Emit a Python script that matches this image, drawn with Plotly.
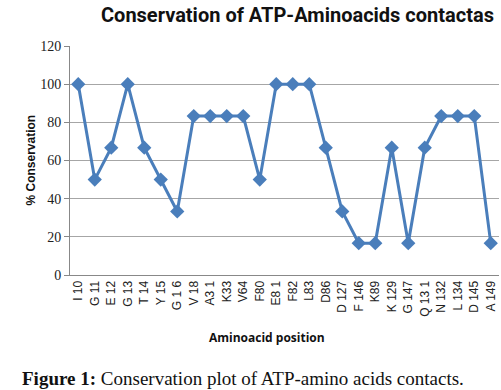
import plotly.graph_objects as go

positions = ["I 10", "G 11", "E 12", "G 13", "T 14", "Y 15", "G 1 6", "V 18", "A3 1", "K33",
             "V64", "F80", "E8 1", "F82", "L83", "D86", "D 127", "F 146", "K89", "K 129",
             "G 147", "Q 13 1", "N 132", "L 134", "D 145", "A 149"]
conservation = [100, 50, 66.7, 100, 66.7, 50, 33.3, 83.3, 83.3, 83.3,
                83.3, 50, 100, 100, 100, 66.7, 33.3, 16.7, 16.7, 66.7,
                16.7, 66.7, 83.3, 83.3, 83.3, 16.7]
y_ticks = [0, 20, 40, 60, 80, 100, 120]

fig = go.Figure()
fig.add_trace(go.Scatter(
    x=positions, y=conservation, mode="lines+markers",
    line=dict(color="#4a7ebb", width=3),
    marker=dict(symbol="diamond", size=11, color="#4a7ebb"),
    showlegend=False,
))

fig.update_layout(
    width=501, height=390,
    margin=dict(l=70, r=2, t=46, b=115),
    paper_bgcolor="white", plot_bgcolor="white",
    xaxis=dict(
        type="category", range=[-0.5, len(positions) - 0.5],
        tickangle=-90, tickfont=dict(family="Liberation Sans, Arial", size=12, color="#222"),
        showgrid=False, showline=True, linecolor="#888", linewidth=1,
        ticks="", zeroline=False,
    ),
    yaxis=dict(
        range=[0, 120], tickvals=y_ticks,
        tickfont=dict(family="Liberation Serif, Times New Roman", size=14, color="#222"),
        showgrid=True, gridcolor="#a6a6a6", gridwidth=1,
        showline=True, linecolor="#888", linewidth=1,
        ticks="outside", ticklen=5, tickcolor="#888", zeroline=False,
    ),
    annotations=[
        dict(text="<b>Conservation of ATP-Aminoacids contactas</b>", xref="paper", yref="paper",
             x=0.53, y=1.0, yshift=31, xanchor="center", yanchor="middle", showarrow=False,
             font=dict(family="Roboto", size=20, color="#111")),
        dict(text="<b>% Conservation</b>", xref="paper", yref="paper", textangle=-90,
             x=0, xshift=-40, y=0.5, xanchor="center", yanchor="middle", showarrow=False,
             font=dict(family="Liberation Sans, Arial", size=12, color="#111")),
        dict(text="<b>Aminoacid position</b>", xref="paper", yref="paper",
             x=0.46, y=0, yshift=-62, xanchor="center", yanchor="middle", showarrow=False,
             font=dict(family="Open Sans", size=12, color="#111")),
        dict(text="<b>Figure 1:</b> Conservation plot of ATP-amino acids contacts.", xref="paper", yref="paper",
             x=0, xshift=-50, y=0, yshift=-103, xanchor="left", yanchor="middle", showarrow=False,
             font=dict(family="Liberation Serif, Times New Roman", size=19, color="#111")),
    ],
)

fig.write_html("out.html", config={"displayModeBar": False},
               post_script="document.body.style.margin='0';")
